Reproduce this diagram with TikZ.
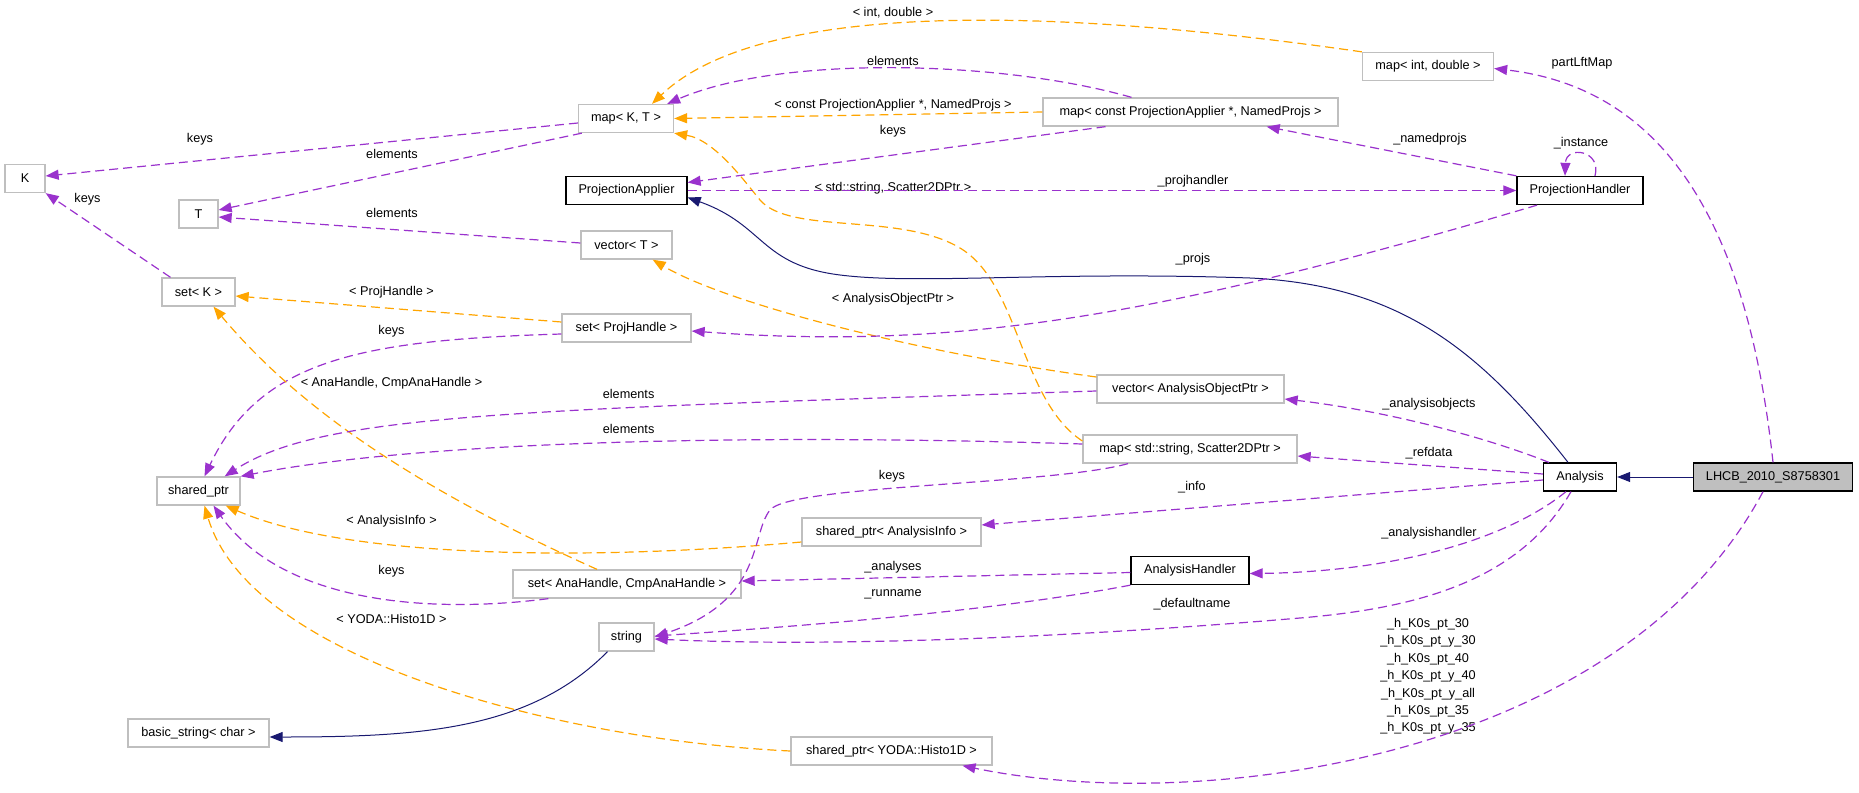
\documentclass[tikz,border=0pt]{standalone}
\usepackage{fontspec}
\setmainfont{Liberation Sans}
\usetikzlibrary{arrows.meta}

\definecolor{usecol}{HTML}{9A32CD}
\definecolor{tplcol}{HTML}{FFA500}
\definecolor{inhcol}{HTML}{191970}
\definecolor{boxgray}{HTML}{BFBFBF}

\begin{document}
\begin{tikzpicture}[x=1pt, y=-1pt,
    every node/.style={font=\fontsize{12.7}{17.4}\selectfont},
    cls/.style={draw=boxgray, line width=1.3pt, fill=white, minimum height=28pt, inner sep=0pt},
    hcls/.style={cls, draw=black},
    lbl/.style={inner sep=0pt},
    usage/.style={usecol, line width=1.2pt, dash pattern=on 9pt off 5pt, -{Triangle[length=13pt,width=10pt]}},
    tpl/.style={usage, tplcol},
    inh/.style={inhcol, line width=1pt, -{Triangle[length=13pt,width=10pt]}}]
        \useasboundingbox (0,0) rectangle (1859,792);

        % classes
        \node[cls, minimum width=40pt] (K) at (25,178.5) {K};
        \node[cls, minimum width=39pt] (T) at (198.5,214) {T};
        \node[cls, minimum width=95pt] (mapKT) at (626,118.5) {map< K, T >};
        \node[hcls, minimum width=121pt] (PA) at (626.5,190.5) {ProjectionApplier};
        \node[cls, minimum width=91pt] (vecT) at (626.5,245) {vector< T >};
        \node[cls, minimum width=73pt] (setK) at (198.5,292) {set< K >};
        \node[cls, minimum width=129pt] (setPH) at (626.5,328) {set< ProjHandle >};
        \node[cls, minimum width=83pt] (sp) at (198.5,491) {shared\_ptr};
        \node[cls, minimum width=228pt] (setAna) at (627,584) {set< AnaHandle, CmpAnaHandle >};
        \node[cls, minimum width=55pt] (string) at (626.5,637) {string};
        \node[cls, minimum width=141pt] (bstr) at (198.5,733) {basic\_string< char >};
        \node[cls, minimum width=295pt] (mapConst) at (1190.5,112) {map< const ProjectionApplier *, NamedProjs >};
        \node[cls, minimum width=131pt] (mapIntD) at (1428,66.5) {map< int, double >};
        \node[hcls, minimum width=126pt] (PH) at (1580,190.5) {ProjectionHandler};
        \node[cls, minimum width=187pt] (vecAOP) at (1190.5,389) {vector< AnalysisObjectPtr >};
        \node[cls, minimum width=214pt] (mapS2D) at (1190,449) {map< std::string, Scatter2DPtr >};
        \node[cls, minimum width=179pt] (spAI) at (891.5,532) {shared\_ptr< AnalysisInfo >};
        \node[hcls, minimum width=118pt] (AH) at (1190,570.5) {AnalysisHandler};
        \node[cls, minimum width=201pt] (spYODA) at (891.5,751) {shared\_ptr< YODA::Histo1D >};
        \node[hcls, minimum width=73pt] (Ana) at (1580,477) {Analysis};
        \node[hcls, fill=boxgray, minimum width=159pt] (LHCB) at (1773,477) {LHCB\_2010\_S8758301};

        % edge labels
        \node[lbl] (lk1) at (200,139) {keys};
        \node[lbl] (le1) at (392,154) {elements};
        \node[lbl] (lk2) at (87.5,199) {keys};
        \node[lbl] (le2) at (392,213) {elements};
        \node[lbl] (lph) at (391.5,292) {< ProjHandle >};
        \node[lbl] (lk3) at (391.5,331) {keys};
        \node[lbl] (lana) at (391.5,383) {< AnaHandle, CmpAnaHandle >};
        \node[lbl] (le3) at (628.6,394) {elements};
        \node[lbl] (le4) at (628.6,429) {elements};
        \node[lbl] (lai) at (391.5,521) {< AnalysisInfo >};
        \node[lbl] (lk4) at (391.5,571) {keys};
        \node[lbl] (lyoda) at (391.5,619) {< YODA::Histo1D >};
        \node[lbl] (lid) at (893,13) {< int, double >};
        \node[lbl] (le5) at (893,61) {elements};
        \node[lbl] (lcpa) at (893,105) {< const ProjectionApplier *, NamedProjs >};
        \node[lbl] (lk5) at (893,131) {keys};
        \node[lbl] (ls2d) at (893,188) {< std::string, Scatter2DPtr >};
        \node[lbl] (lpjh) at (1193,181) {\_projhandler};
        \node[lbl] (lpjs) at (1193,259) {\_projs};
        \node[lbl] (laop) at (893,299) {< AnalysisObjectPtr >};
        \node[lbl] (lk6) at (892,476) {keys};
        \node[lbl] (linfo) at (1192,487) {\_info};
        \node[lbl] (lanas) at (893,567) {\_analyses};
        \node[lbl] (lrun) at (893,594) {\_runname};
        \node[lbl] (ldef) at (1192,604) {\_defaultname};
        \node[lbl] (lplm) at (1582,63) {partLftMap};
        \node[lbl] (lnp) at (1430,139) {\_namedprojs};
        \node[lbl] (linst) at (1581,143) {\_instance};
        \node[lbl] (laobj) at (1429,404) {\_analysisobjects};
        \node[lbl] (lref) at (1429,453) {\_refdata};
        \node[lbl] (lah) at (1429,533) {\_analysishandler};
        \node[lbl, align=center] (lhist) at (1428,676.5) {\_h\_K0s\_pt\_30\\\_h\_K0s\_pt\_y\_30\\\_h\_K0s\_pt\_40\\\_h\_K0s\_pt\_y\_40\\\_h\_K0s\_pt\_y\_all\\\_h\_K0s\_pt\_35\\\_h\_K0s\_pt\_y\_35};

        % left part
        \draw[usage] ([yshift=-4.5pt]mapKT.west) -- ([yshift=2.5pt]K.east);
        \draw[usage] ([xshift=4pt]mapKT.south west) -- ([yshift=4pt]T.east);
        \draw[usage] ([yshift=2pt]vecT.west) -- ([yshift=-3pt]T.east);
        \draw[usage] ([xshift=-28pt]setK.north) -- (K.south east);
        \draw[tpl] ([yshift=6pt]setPH.west) -- ([yshift=-4pt]setK.east);
        \draw[usage] ([yshift=-6pt]setPH.west) .. controls (360,340) and (260,360) .. ([xshift=6pt]sp.north);
        \draw[tpl] ([xshift=-30pt]setAna.north) .. controls (420,490) and (300,410) .. ([xshift=15pt]setK.south);
        \draw[usage] ([yshift=-2pt]vecAOP.west) .. controls (500,410) and (320,415) .. ([xshift=-16pt]sp.north east);
        \draw[usage] ([yshift=5pt]mapS2D.west) .. controls (700,432) and (400,445) .. (sp.north east);
        \draw[tpl] ([yshift=-10pt]spAI.west) .. controls (600,560) and (350,560) .. ([xshift=-15pt]sp.south east);
        \draw[usage] ([xshift=36pt]setAna.south west) .. controls (420,615) and (280,600) .. ([xshift=15pt]sp.south);
        \draw[tpl] (spYODA.west) .. controls (560,740) and (250,660) .. ([xshift=6pt]sp.south);
        \draw[inh] ([xshift=-19pt]string.south) .. controls (530,730) and (420,737) .. ([yshift=-4pt]bstr.east);

        % middle part
        \draw[tpl] (mapIntD.north west) .. controls (1000,0) and (750,10) .. ([xshift=26pt]mapKT.north);
        \draw[usage] ([xshift=-59pt]mapConst.north) .. controls (1000,60) and (780,55) .. ([xshift=-7pt]mapKT.north east);
        \draw[tpl] (mapConst.west) -- (mapKT.east);
        \draw[tpl] ([yshift=8pt]mapS2D.west) .. controls (1020,400) and (1020,284) .. (960,248)
            .. controls (900,212) and (790,235) .. (760,200)
            .. controls (745,182) and (715,140) .. (mapKT.south east);
        \draw[tpl] ([yshift=12pt]vecAOP.west) .. controls (900,350) and (720,300) .. ([xshift=-20pt]vecT.south east);
        \draw[usage] ([xshift=-85pt]mapConst.south) -- ([yshift=8pt]PA.east);
        \draw[usage] (PA.east) -- (PH.west);
        \draw[usage] (PH.north west) -- ([xshift=-72pt]mapConst.south east);
        \draw[usage] ([xshift=15pt]PH.north) .. controls (1602,150) and (1566,145) .. ([xshift=-15pt]PH.north);
        \draw[inh] ([xshift=-12pt]Ana.north) .. controls (1480,350) and (1400,285) .. (1250,278)
            .. controls (1050,271) and (920,285) .. (840,275)
            .. controls (760,265) and (765,225) .. ([yshift=-7pt]PA.east);
        \draw[usage] ([xshift=-43pt]PH.south) .. controls (1150,320) and (950,350) .. ([yshift=-3pt]setPH.east);

        % right part
        \draw[usage] ([xshift=6pt]Ana.north west) .. controls (1480,435) and (1380,410) .. ([yshift=-10pt]vecAOP.east);
        \draw[usage] ([yshift=3pt]Ana.west) -- ([yshift=-7pt]mapS2D.east);
        \draw[usage] ([yshift=-3pt]Ana.west) -- ([yshift=7pt]spAI.east);
        \draw[usage] ([xshift=-14pt]Ana.south) .. controls (1500,545) and (1380,572) .. ([yshift=-3pt]AH.east);
        \draw[usage] ([xshift=-9pt]Ana.south) .. controls (1520,580) and (1420,608) .. (1300,618)
            .. controls (1100,635) and (850,648) .. ([yshift=-2pt]string.east);
        \draw[usage] ([yshift=-2pt]AH.west) -- ([yshift=3pt]setAna.east);
        \draw[usage] (AH.south west) .. controls (1000,610) and (820,625) .. ([yshift=1pt]string.east);
        \draw[usage] ([xshift=-62pt]mapS2D.south) .. controls (1050,485) and (790,485) .. (770,510)
            .. controls (750,535) and (765,600) .. (string.east);
        \draw[inh] (LHCB.west) -- (Ana.east);
        \draw[usage] (LHCB.north) .. controls (1750,250) and (1680,90) .. ([yshift=-2pt]mapIntD.east);
        \draw[usage] ([xshift=-10pt]LHCB.south) .. controls (1620,760) and (1200,815) .. ([xshift=71pt]spYODA.south);
\end{tikzpicture}
\end{document}
